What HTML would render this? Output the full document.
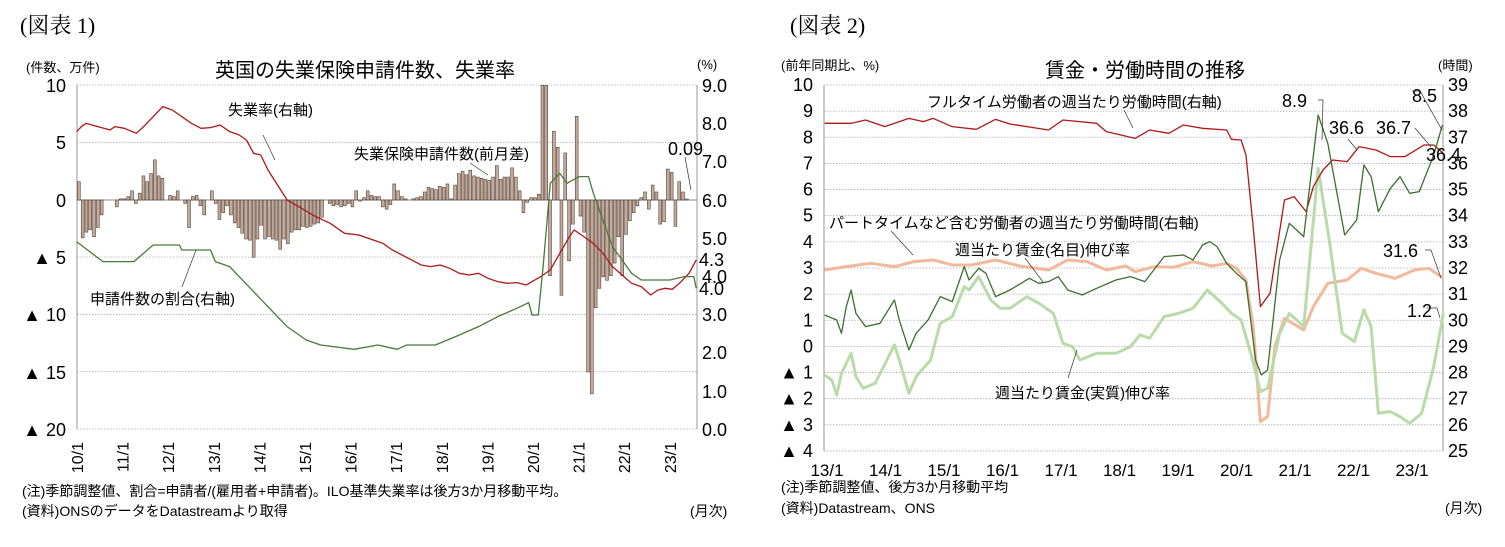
<!DOCTYPE html>
<html><head><meta charset="utf-8"><style>
html,body{margin:0;padding:0;background:#fff;}
svg{display:block;font-family:"Liberation Sans","Noto Sans CJK JP",sans-serif;}
.s{vector-effect:non-scaling-stroke;fill:none;stroke-linejoin:round;}
.g{stroke:#aaa;stroke-width:0.8;stroke-dasharray:1.5,1.5;}
</style></head><body>
<svg id="c" width="1505" height="547" viewBox="0 0 1505 547" xmlns="http://www.w3.org/2000/svg">
<rect width="1505" height="547" fill="#fff"/>
<text x="20" y="33" font-size="22" font-family="Liberation Serif,Noto Serif CJK SC,serif">(図表 1)</text>
<text x="790" y="33" font-size="22" font-family="Liberation Serif,Noto Serif CJK SC,serif">(図表 2)</text>
<g id="grid1"></g>
<line x1="77" y1="85" x2="77" y2="429" stroke="#999"/>
<line x1="697" y1="85" x2="697" y2="429" stroke="#999"/>
<line x1="77" y1="200" x2="697" y2="200" stroke="#888"/>
<g id="bars"></g>
<g transform="translate(0,60) scale(0.4785,0.3333)">
<polyline class="s" stroke="#b01818" stroke-width="1.3" points="160,215 170,200 180,190 200,198 230,210 240,200 260,205 285,220 300,200 320,170 340,140 360,150 400,190 420,205 440,203 460,195 480,215 500,225 515,240 530,280 545,285 560,330 600,420 630,445 660,470 690,490 720,520 750,525 780,540 800,550 820,570 840,585 860,600 880,615 900,620 920,615 940,625 960,640 980,645 1000,640 1020,655 1040,665 1060,670 1080,668 1100,675 1115,662 1130,650 1150,630 1170,580 1190,530 1200,510 1220,530 1240,550 1260,580 1280,620 1300,645 1320,670 1340,680 1360,705 1375,690 1390,685 1405,688 1420,670 1440,640 1455,600"/>
<polyline class="s" stroke="#4a7a3a" stroke-width="1.3" points="160,545 215,605 280,605 320,555 375,555 380,570 440,570 450,605 480,620 520,680 560,740 600,800 640,840 670,855 740,868 790,855 830,868 850,855 910,855 960,825 1000,800 1040,770 1080,745 1105,728 1112,765 1125,765 1135,620 1150,370 1170,340 1185,370 1210,350 1230,350 1240,400 1260,480 1280,560 1320,640 1340,660 1400,660 1430,650 1450,650 1455,685"/>
</g>
<g font-size="18" text-anchor="end">
<text x="66" y="92">10</text><text x="66" y="149">5</text><text x="66" y="207">0</text>
<text x="66" y="264">▲ 5</text><text x="66" y="321">▲ 10</text><text x="66" y="379">▲ 15</text><text x="66" y="436">▲ 20</text>
</g>
<g font-size="18">
<text x="702" y="92">9.0</text><text x="702" y="130">8.0</text><text x="702" y="168">7.0</text><text x="702" y="207">6.0</text>
<text x="702" y="245">5.0</text><text x="702" y="283">4.0</text><text x="702" y="321">3.0</text><text x="702" y="359">2.0</text>
<text x="702" y="398">1.0</text><text x="702" y="436">0.0</text>
</g>
<g id="xl1" font-size="16"></g>
<text x="26" y="72" font-size="13">(件数、万件)</text>
<text x="365" y="77" font-size="20" text-anchor="middle">英国の失業保険申請件数、失業率</text>
<text x="697" y="69" font-size="13">(%)</text>
<g font-size="15">
<text x="228" y="115">失業率(右軸)</text>
<text x="354" y="159">失業保険申請件数(前月差)</text>
<text x="90" y="304">申請件数の割合(右軸)</text>
<text x="668" y="155" font-size="18">0.09</text>
<text x="699" y="266" font-size="18">4.3</text>
<text x="699" y="295" font-size="18">4.0</text>
</g>
<g stroke="#333" stroke-width="0.7" fill="none">
<line x1="263" y1="135" x2="275" y2="160"/><line x1="196" y1="250" x2="182" y2="287"/>
<line x1="470" y1="163" x2="488" y2="175"/><line x1="685" y1="157" x2="691" y2="190"/>
</g>
<text x="22" y="496" font-size="14">(注)季節調整値、割合=申請者/(雇用者+申請者)。ILO基準失業率は後方3か月移動平均。</text>
<text x="22" y="516" font-size="14">(資料)ONSのデータをDatastreamより取得</text>
<text x="690" y="516" font-size="14">(月次)</text>

<g id="grid2"></g>
<line x1="824" y1="85" x2="824" y2="451" stroke="#999"/>
<line x1="1443" y1="85" x2="1443" y2="451" stroke="#999"/>
<g transform="translate(750,60) scale(0.4815,0.3333)">
<polyline class="s" stroke="#f2b89a" stroke-width="3" points="155,630 200,620 250,610 300,620 340,605 380,600 420,615 460,615 510,600 560,618 620,630 660,600 700,605 740,630 780,618 800,635 840,620 880,622 920,605 960,618 990,610 1010,625 1030,660 1045,800 1060,1085 1075,1070 1090,860 1110,775 1150,810 1170,740 1200,670 1240,660 1270,625 1300,640 1340,655 1380,630 1410,625 1440,655"/>
<polyline class="s" stroke="#b9dba9" stroke-width="3" points="155,945 170,960 180,1005 190,940 210,880 220,950 235,985 260,970 300,855 310,900 330,1000 345,950 375,900 395,790 420,770 445,680 455,690 475,650 500,720 520,745 540,745 575,710 600,730 630,760 650,850 670,860 685,900 720,880 760,880 790,860 810,825 830,835 860,770 890,760 920,745 950,690 980,730 1000,760 1020,780 1040,880 1060,995 1075,985 1100,820 1120,760 1150,800 1180,325 1205,560 1230,820 1255,845 1275,750 1290,800 1305,1060 1330,1055 1350,1070 1370,1090 1395,1060 1420,920 1440,760"/>
<polyline class="s" stroke="#b01818" stroke-width="1.3" points="155,190 210,190 240,180 280,200 330,175 360,185 380,175 420,200 470,208 510,178 540,192 620,210 650,180 720,190 740,215 800,235 830,210 870,220 900,195 940,205 990,210 1000,238 1020,240 1030,285 1045,500 1060,740 1080,700 1110,420 1130,410 1155,455 1170,380 1190,330 1210,300 1240,305 1265,260 1300,270 1330,290 1360,290 1400,255 1420,255 1440,280"/>
<polyline class="s" stroke="#3d6e30" stroke-width="1.3" points="155,765 180,780 190,820 200,740 210,690 220,760 240,800 270,790 300,720 310,780 330,870 345,820 370,780 395,710 420,725 445,620 455,660 475,625 490,640 510,710 540,690 580,655 600,670 620,665 640,650 660,690 690,705 720,685 760,660 790,650 820,665 860,590 900,585 920,600 940,555 955,545 970,560 990,610 1010,640 1030,665 1050,900 1062,945 1075,930 1100,600 1120,490 1150,530 1180,165 1200,250 1235,525 1260,480 1275,315 1290,350 1305,455 1330,385 1350,350 1370,400 1390,395 1420,285 1438,195"/>
</g>
<g id="yl2" font-size="18"></g>
<g id="xl2" font-size="17" text-anchor="middle"></g>
<text x="781" y="70" font-size="13">(前年同期比、%)</text>
<text x="1145" y="77" font-size="20" text-anchor="middle">賃金・労働時間の推移</text>
<text x="1438" y="70" font-size="13">(時間)</text>
<g font-size="15">
<text x="927" y="107">フルタイム労働者の週当たり労働時間(右軸)</text>
<text x="829" y="228">パートタイムなど含む労働者の週当たり労働時間(右軸)</text>
<text x="955" y="255">週当たり賃金(名目)伸び率</text>
<text x="995" y="398">週当たり賃金(実質)伸び率</text>
</g>
<g font-size="18">
<text x="1282" y="107">8.9</text><text x="1412" y="102">8.5</text>
<text x="1329" y="134">36.6</text><text x="1376" y="134">36.7</text>
<text x="1426" y="161">36.4</text><text x="1383" y="257">31.6</text><text x="1407" y="317">1.2</text>
</g>
<g stroke="#333" stroke-width="0.7" fill="none">
<polyline points="1318,100 1323,100 1322,140"/><polyline points="1412,91 1420,91 1442,130"/>
<line x1="1348" y1="139" x2="1357" y2="150"/><line x1="1415" y1="128" x2="1431" y2="147"/>
<polyline points="1425,250 1431,250 1441,278"/><polyline points="1427,308 1437,308 1440,318"/>
<line x1="1124" y1="110" x2="1133" y2="128"/><line x1="891" y1="231" x2="913" y2="255"/>
<line x1="1025" y1="258" x2="1043" y2="282"/><line x1="1068" y1="378" x2="1077" y2="350"/>
</g>
<text x="781" y="492" font-size="14">(注)季節調整値、後方3か月移動平均</text>
<text x="781" y="513" font-size="14">(資料)Datastream、ONS</text>
<text x="1445" y="513" font-size="14">(月次)</text>
</svg>
<script>
var NS="http://www.w3.org/2000/svg";
function el(p,t,a,txt){var e=document.createElementNS(NS,t);for(var k in a)e.setAttribute(k,a[k]);if(txt!=null)e.textContent=txt;document.getElementById(p).appendChild(e);return e;}
for(var i=0;i<7;i++){var y=85+i*57.33;if(i!=2)el("grid1","line",{x1:77,x2:697,y1:y,y2:y,"class":"g"});}
var v=[1.6,-3.3,-2.8,-2.6,-3.2,-2.4,-1.3,0,0,0,-0.6,0.1,
0.1,0.3,0.8,-0.3,0.6,2.1,1.6,2.3,3.5,2.1,1.9,0,
0.4,0.3,0.8,0,-0.3,-2.4,0.3,0.4,-0.5,-1.3,0,0.8,
-0.3,-1.7,-1.1,-0.5,-1.3,-2.0,-2.4,-2.9,-3.4,-3.5,-5.0,-3.4,
-2.2,-3.4,-3.2,-3.4,-3.5,-4.3,-3.4,-3.8,-2.8,-2.6,-2.6,-2.3,
-2.4,-2.3,-2.1,-2.0,-1.5,0,-0.3,-0.5,-0.4,-0.6,-0.5,-0.3,
-0.6,0.8,-0.1,0.2,0.8,0.4,0.3,0.3,-0.6,-0.8,-0.4,1.4,
0.8,0.3,0.1,0,0.1,0.2,0.3,0.7,1.1,1.0,0.9,1.2,
1.1,1.4,0.1,1.3,2.3,2.5,2.2,2.6,2.1,2.0,1.9,1.8,
1.7,2.0,3.0,1.8,2.0,2.0,2.8,2.0,0.8,-1.1,-0.2,0.2,
0.2,0.5,10,10,-6.6,6.0,4.6,-8.3,4.1,-5.3,-2.1,7.3,
-1.4,-2.8,-15.0,-16.9,-9.4,-7.7,-6.7,-7.0,-6.6,-5.5,-3.2,-6.6,
-3.0,-1.8,-1.1,-0.5,0.2,0.7,-0.8,1.3,0.7,-2.1,-1.9,2.7,
2.4,-2.3,1.6,0.7,0.09];
var m=45.6/12;
for(var i=0;i<v.length;i++){var x=77+i*m;var h=v[i]*11.47;if(h>115)h=115;
el("bars","rect",{x:x+0.4,width:m-0.9,y:h>0?200-h:200,height:Math.abs(h),fill:"#c4aa9a",stroke:"#3a2a22","stroke-width":0.5});}
var yrs=["10","11","12","13","14","15","16","17","18","19","20","21","22","23"];
for(var i=0;i<14;i++){var x=83+i*45.6;el("xl1","text",{x:x,y:442,transform:"rotate(-90 "+x+" 442)","text-anchor":"end"},yrs[i]+"/1");}
for(var i=0;i<=14;i++){var y=85+i*26.14;el("grid2","line",{x1:824,x2:1443,y1:y,y2:y,"class":"g"});
var l=10-i;var s=l<0?"▲ "+(-l):""+l;el("yl2","text",{x:813,y:y+6,"text-anchor":"end"},s);
el("yl2","text",{x:1448,y:y+6},""+(39-i));}
for(var i=0;i<11;i++){el("xl2","text",{x:827+i*58.5,y:476},(13+i)+"/1");}
</script>
</body></html>
